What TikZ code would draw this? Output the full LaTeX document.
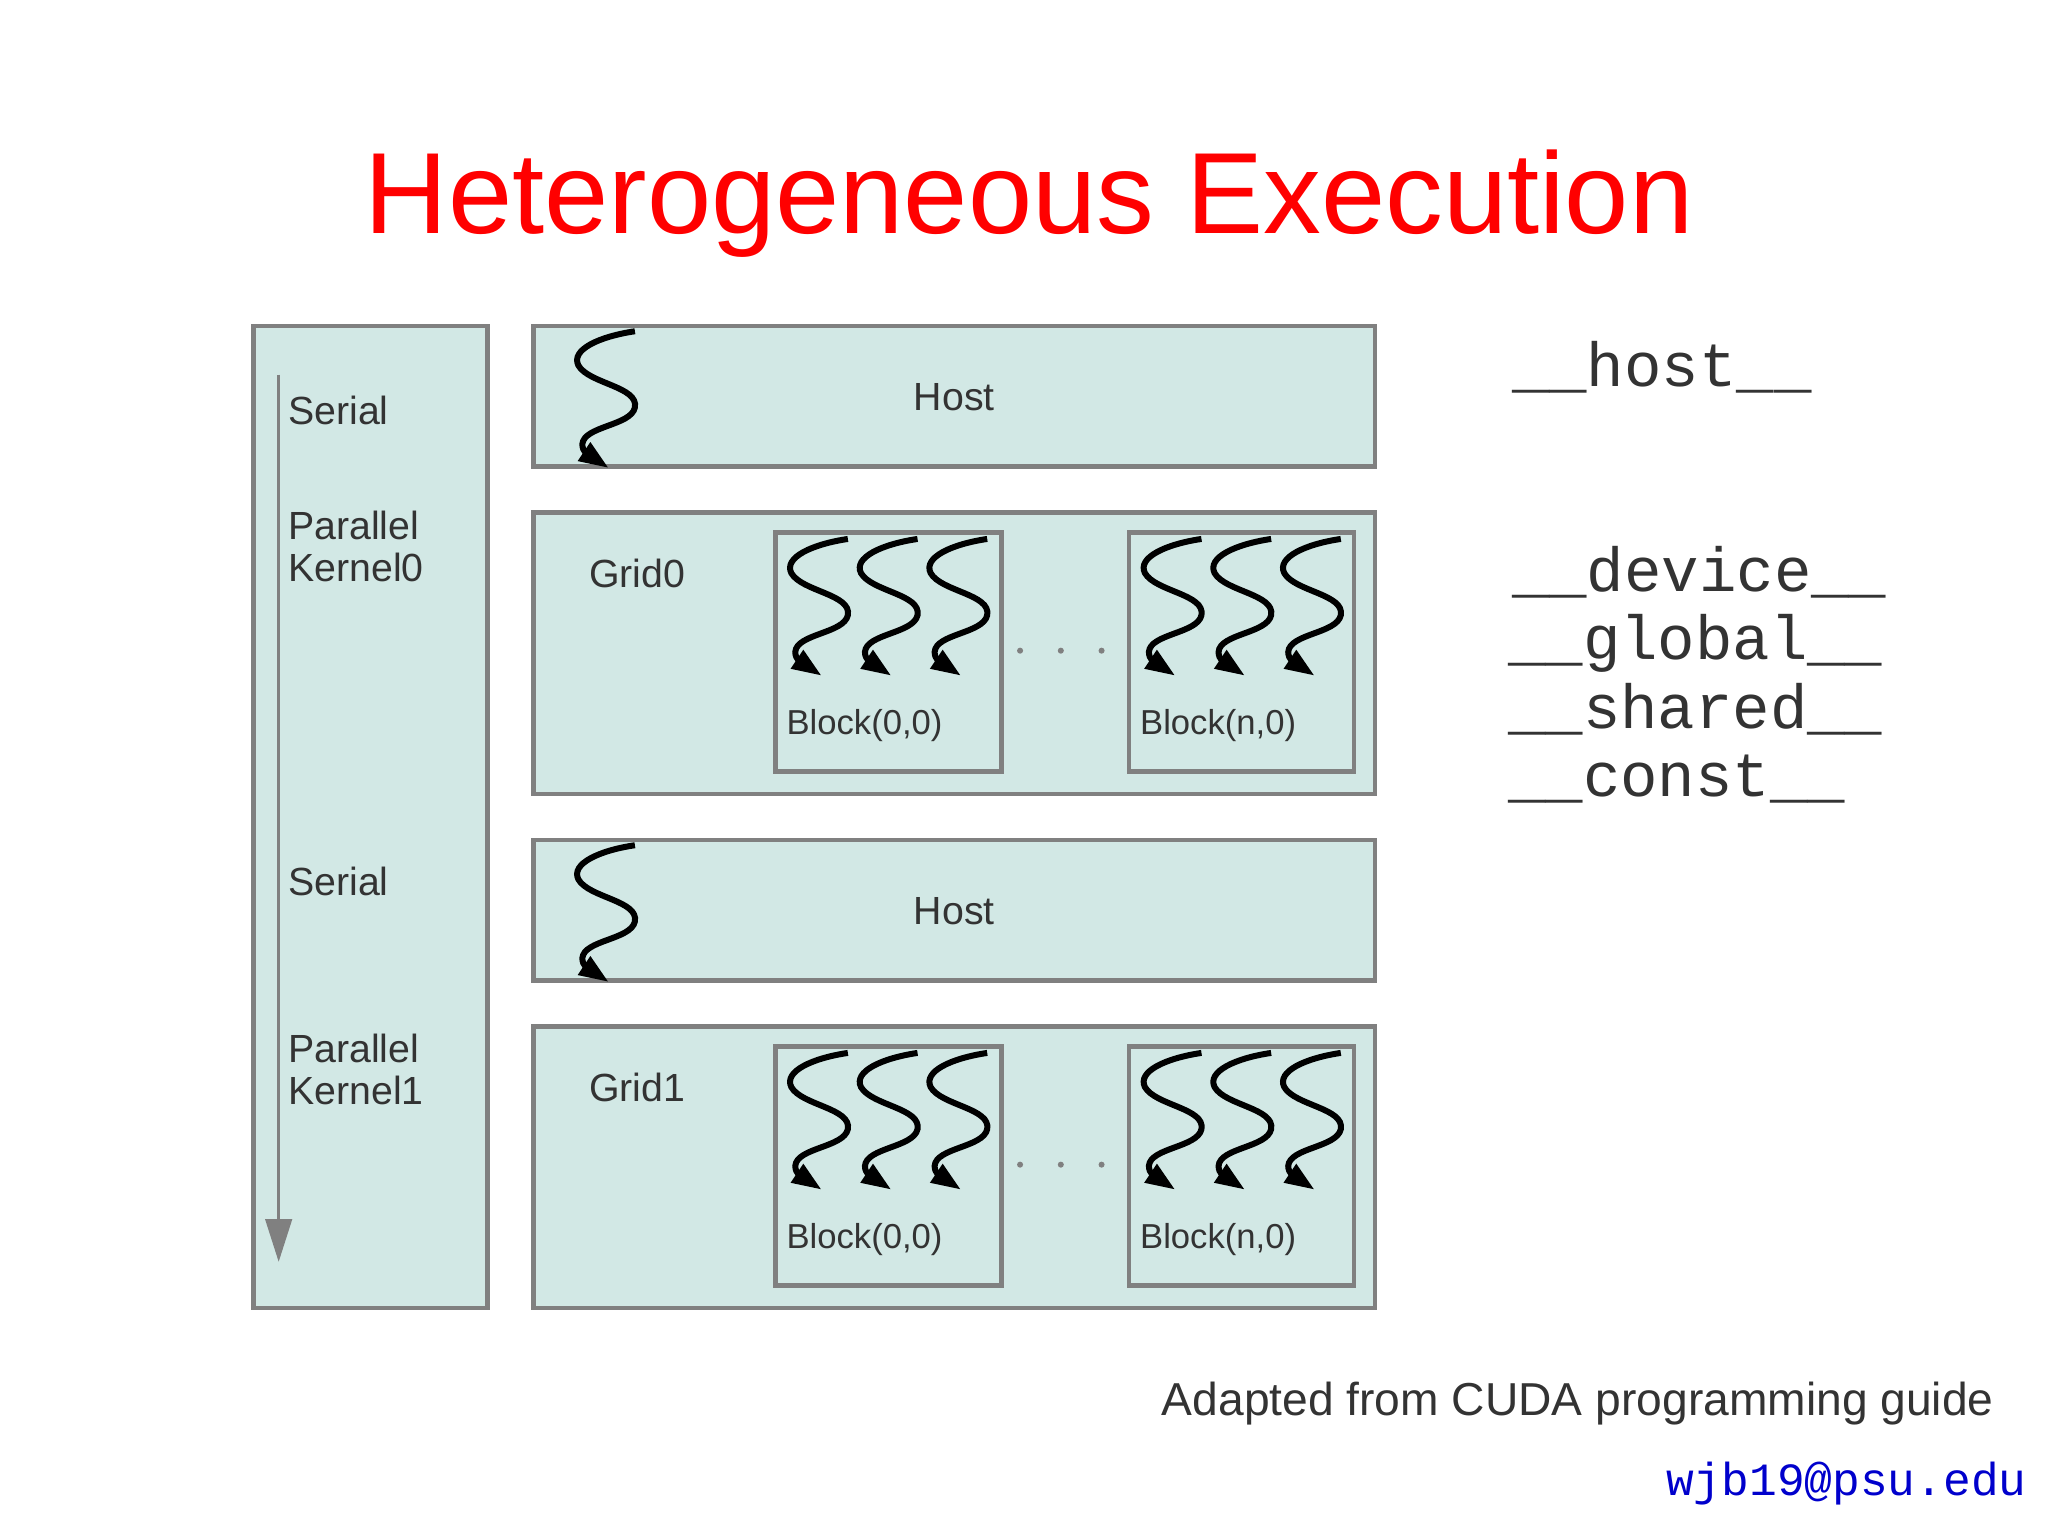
\documentclass[tikz,border=0pt]{standalone}
\usepackage{fontspec}
\setmainfont{Liberation Sans}
\newfontfamily\monof{Liberation Mono}
\usetikzlibrary{arrows.meta}
\definecolor{boxfill}{HTML}{D2E8E5}
\definecolor{boxline}{HTML}{808080}
\definecolor{txt}{HTML}{333333}
\tikzset{
  panel/.style={draw=boxline,fill=boxfill,line width=2pt},
  lbl/.style={font=\fontsize{17}{20}\selectfont,text=txt,inner sep=0pt},
  blbl/.style={font=\fontsize{15}{18}\selectfont,text=txt,inner sep=0pt,anchor=base west},
  kw/.style={font=\monof\fontsize{27}{30}\selectfont,text=txt,inner sep=0pt,anchor=base west},
  squig/.pic={
    \draw[line width=2.6pt,-{Triangle[length=0.45cm,width=0.32cm]}]
      (47,0) .. controls (20,4) and (-2,14) .. (4,26)
      .. controls (12,40) and (50,42) .. (47,58)
      .. controls (44,72) and (8,72) .. (7,86)
      .. controls (7,92) and (12,94) .. (27,104);
  }
}
\begin{document}
\begin{tikzpicture}[x=0.02cm,y=-0.02cm]
\useasboundingbox (0,0) rectangle (1558,1168);
\node[font=\fontsize{50}{56}\selectfont,text=red,inner sep=0pt,anchor=base] (title) at (783,178) {Heterogeneous Execution};
% left column
\draw[panel] (193,248) rectangle (371,995);
\coordinate (tA) at (212,285); \coordinate (tB) at (212,960);
\draw[boxline,line width=1.5pt,-{Triangle[length=0.65cm,width=0.4cm]}] (tA) -- (tB);
\node[lbl,anchor=base west] (s1) at (219,323) {Serial};
\node[lbl,anchor=base west,align=left] (p0) at (219,442) {Parallel\\[-2pt]Kernel0};
\node[lbl,anchor=base west] (s2) at (219,681) {Serial};
\node[lbl,anchor=base west,align=left] (p1) at (219,840) {Parallel\\[-2pt]Kernel1};
% hosts
\draw[panel] (406,248) rectangle (1046,355);
\node[lbl] (h1) at (726,302) {Host};
\pic at (436,252) {squig};
\draw[panel] (406,639) rectangle (1046,746);
\node[lbl] (h2) at (726,693) {Host};
\pic at (436,643) {squig};
% grids
\foreach \g/\y in {0/390,1/781}{
  \draw[panel] (406,\y) rectangle (1046,\y+214);
  \node[lbl,anchor=base west] (grid\g) at (448,\y+57) {Grid\g};
  \draw[panel] (590,\y+15) rectangle (762,\y+197);
  \draw[panel] (859,\y+15) rectangle (1030,\y+197);
  \node[blbl] (ba\g) at (598,\y+169) {Block(0,0)};
  \node[blbl] (bb\g) at (867,\y+169) {Block(n,0)};
  \foreach \bx in {598,651,704,867,920,973}{
    \pic at (\bx,\y+20) {squig};
  }
  \foreach \dx in {776,807,838}{
    \fill[boxline] (\dx,\y+105) circle (2.3);
  }
}
% keywords
\node[kw] (k1) at (1150,294) {\_\_host\_\_};
\node[kw] (k2) at (1150,450) {\_\_device\_\_};
\node[kw] (k3) at (1147,502) {\_\_global\_\_};
\node[kw] (k4) at (1147,554) {\_\_shared\_\_};
\node[kw] (k5) at (1147,606) {\_\_const\_\_};
\node[font=\fontsize{20}{24}\selectfont,text=txt,inner sep=0pt,anchor=base east] (src) at (1517,1077) {Adapted from CUDA programming guide};
\node[font=\monof\fontsize{20}{24}\selectfont,text={rgb,255:red,0;green,0;blue,204},inner sep=0pt,anchor=base east] (mail) at (1542,1138) {wjb19@psu.edu};
\end{tikzpicture}
\end{document}
